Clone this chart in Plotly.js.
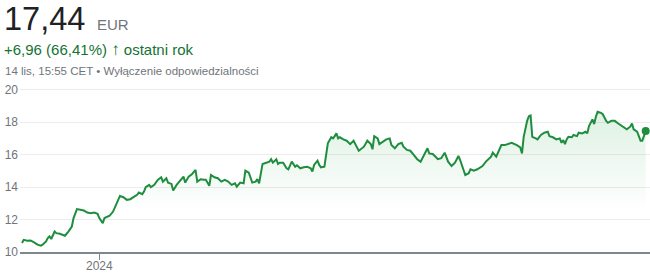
<!DOCTYPE html>
<html>
<head>
<meta charset="utf-8">
<script src="https://cdn.plot.ly/plotly-3.0.1.min.js"></script>
<style>
  html, body { margin: 0; padding: 0; background: #fff; }
  #wrap { position: relative; width: 650px; height: 275px; overflow: hidden; font-family: "Liberation Sans", Arial, sans-serif; }
  #chart { position: absolute; left: 0; top: 0; width: 650px; height: 275px; }
  .hdr { position: absolute; white-space: nowrap; z-index: 5; }
  #price { left: 4px; top: 1px; font-size: 32.5px; color: #202124; line-height: 36px; }
  #cur { left: 97px; top: 16px; font-size: 15px; color: #70757a; line-height: 17px; }
  #chg { left: 4px; top: 40px; font-size: 15px; color: #137333; line-height: 20px; }
  #chg b { font-size: 17px; font-weight: 900; }
  #meta { left: 5px; top: 64px; font-size: 11.5px; color: #70757a; line-height: 14px; }
</style>
</head>
<body>
<div id="wrap">
  <div id="chart"></div>
  <div class="hdr" id="price">17,44</div>
  <div class="hdr" id="cur">EUR</div>
  <div class="hdr" id="chg">+6,96 (66,41%) <b>↑</b> ostatni rok</div>
  <div class="hdr" id="meta">14 lis, 15:55 CET • Wyłączenie odpowiedzialności</div>
</div>
<script>
const dates = [
  "2023-11-17","2023-11-18","2023-11-20","2023-11-22","2023-11-24","2023-11-26","2023-11-28","2023-11-29",
  "2023-12-01","2023-12-02","2023-12-03","2023-12-04","2023-12-06","2023-12-07","2023-12-09","2023-12-11",
  "2023-12-12","2023-12-14","2023-12-16","2023-12-17","2023-12-19","2023-12-21","2023-12-23","2023-12-25",
  "2023-12-27","2023-12-29","2023-12-31","2024-01-01","2024-01-03","2024-01-04","2024-01-07","2024-01-09",
  "2024-01-11","2024-01-13","2024-01-15","2024-01-17","2024-01-19","2024-01-21","2024-01-23","2024-01-24",
  "2024-01-26","2024-01-27","2024-01-28","2024-01-30","2024-01-31","2024-02-02","2024-02-04","2024-02-06",
  "2024-02-07","2024-02-09","2024-02-10","2024-02-12","2024-02-13","2024-02-15","2024-02-17","2024-02-19",
  "2024-02-20","2024-02-22","2024-02-24","2024-02-26","2024-02-27","2024-02-29","2024-03-02","2024-03-03",
  "2024-03-05","2024-03-06","2024-03-08","2024-03-10","2024-03-12","2024-03-14","2024-03-16","2024-03-18",
  "2024-03-20","2024-03-21","2024-03-23","2024-03-25","2024-03-26","2024-03-28","2024-03-30","2024-04-01",
  "2024-04-02","2024-04-03","2024-04-05","2024-04-07","2024-04-09","2024-04-10","2024-04-11","2024-04-13",
  "2024-04-14","2024-04-15","2024-04-17","2024-04-19","2024-04-20","2024-04-22","2024-04-24","2024-04-25",
  "2024-04-27","2024-04-29","2024-05-01","2024-05-03","2024-05-04","2024-05-05","2024-05-07","2024-05-08",
  "2024-05-09","2024-05-11","2024-05-12","2024-05-13","2024-05-15","2024-05-16","2024-05-17","2024-05-18",
  "2024-05-19","2024-05-20","2024-05-22","2024-05-24","2024-05-26","2024-05-28","2024-05-29","2024-05-31",
  "2024-06-03","2024-06-05","2024-06-07","2024-06-08","2024-06-09","2024-06-11","2024-06-12","2024-06-15",
  "2024-06-16","2024-06-18","2024-06-19","2024-06-21","2024-06-23","2024-06-25","2024-06-26","2024-06-28",
  "2024-06-30","2024-07-02","2024-07-04","2024-07-06","2024-07-08","2024-07-10","2024-07-11","2024-07-13",
  "2024-07-15","2024-07-16","2024-07-18","2024-07-20","2024-07-22","2024-07-24","2024-07-26","2024-07-28",
  "2024-07-29","2024-07-31","2024-08-01","2024-08-03","2024-08-04","2024-08-06","2024-08-08","2024-08-11",
  "2024-08-13","2024-08-16","2024-08-17","2024-08-19","2024-08-21","2024-08-22","2024-08-24","2024-08-26",
  "2024-08-28","2024-08-31","2024-09-02","2024-09-03","2024-09-04","2024-09-06","2024-09-07","2024-09-08",
  "2024-09-09","2024-09-11","2024-09-12","2024-09-14","2024-09-16","2024-09-18","2024-09-19","2024-09-21",
  "2024-09-23","2024-09-25","2024-09-26","2024-09-27","2024-09-28","2024-09-29","2024-09-30","2024-10-02",
  "2024-10-03","2024-10-05","2024-10-06","2024-10-08","2024-10-10","2024-10-11","2024-10-12","2024-10-14",
  "2024-10-15","2024-10-16","2024-10-17","2024-10-19","2024-10-20","2024-10-22","2024-10-23","2024-10-25",
  "2024-10-27","2024-10-29","2024-10-31","2024-11-02","2024-11-03","2024-11-05","2024-11-06","2024-11-07",
  "2024-11-09","2024-11-10","2024-11-11","2024-11-12","2024-11-14"
];
const prices = [
  10.55,10.75,10.69,10.71,10.59,10.45,10.39,10.45,
  10.65,10.86,10.96,10.80,11.26,11.16,11.12,11.06,
  11.00,11.26,11.57,12.09,12.64,12.60,12.55,12.43,
  12.39,12.43,12.35,12.09,11.78,12.09,12.23,12.49,
  13.00,13.45,13.37,13.21,13.25,13.37,13.52,13.66,
  13.56,13.72,13.99,14.13,13.99,14.13,14.44,14.60,
  14.33,14.54,14.27,14.19,13.78,14.13,14.39,14.64,
  14.27,14.64,14.80,15.05,14.33,14.48,14.44,14.44,
  14.07,14.74,14.60,14.54,14.33,14.44,14.33,14.13,
  14.23,14.02,14.27,14.23,15.01,14.88,14.27,14.33,
  14.48,14.23,15.42,15.50,15.56,15.71,15.50,15.71,
  15.42,15.50,15.50,15.15,15.09,15.56,15.25,15.34,
  15.15,15.21,15.25,15.15,14.95,15.36,15.62,15.36,
  15.21,15.25,16.07,16.69,17.06,16.99,17.13,17.30,
  16.99,17.06,16.93,16.85,16.64,16.85,16.64,16.23,
  16.48,16.85,16.64,16.32,17.13,16.99,16.64,16.85,
  16.93,16.99,16.58,16.38,16.64,16.72,16.48,16.28,
  16.23,15.97,15.71,15.56,15.97,16.38,16.07,16.03,
  15.83,15.71,15.77,16.11,15.56,15.29,15.50,15.91,
  15.66,15.05,14.74,14.85,15.09,15.01,15.09,15.29,
  15.56,15.87,16.11,15.87,16.32,16.58,16.58,16.64,
  16.72,16.58,16.44,16.07,17.09,18.07,18.36,18.40,
  17.09,16.99,16.93,17.20,17.34,17.40,17.13,17.06,
  16.93,16.99,16.72,16.89,16.64,16.93,17.09,17.06,
  17.20,17.13,17.34,17.30,17.40,17.30,17.75,18.16,
  17.87,18.32,18.63,18.56,18.48,18.07,17.95,18.07,
  18.07,17.91,17.75,17.61,17.55,17.71,17.91,17.55,
  17.40,17.13,16.85,16.85,17.44
];
const yTicks = [10, 12, 14, 16, 18, 20];
const xTickVals = ["2024-01-01"];
const xTickText = ["2024"];

const green = "#1e8e3e";
const lastDate = [dates[dates.length - 1]];
const lastPrice = [prices[prices.length - 1]];

const traces = [
  {
    x: dates, y: prices, type: "scatter", mode: "lines",
    line: { color: green, width: 2, shape: "linear" },
    fill: "tozeroy",
    fillgradient: {
      type: "vertical", start: 12.5, stop: 18.6,
      colorscale: [[0, "rgba(52,168,83,0)"], [1, "rgba(52,168,83,0.16)"]]
    },
    hoverinfo: "skip"
  },
  {
    x: lastDate, y: lastPrice, type: "scatter", mode: "markers",
    marker: { color: green, size: 8 },
    hoverinfo: "skip"
  }
];

const layout = {
  width: 650, height: 275,
  margin: { l: 20, r: 0, t: 83, b: 23 },
  paper_bgcolor: "rgba(0,0,0,0)",
  plot_bgcolor: "rgba(0,0,0,0)",
  showlegend: false,
  font: { family: "Liberation Sans, Arial, sans-serif", color: "#70757a", size: 12 },
  xaxis: {
    type: "date",
    range: ["2023-11-15 20:00", "2024-11-16 12:00"],
    tickvals: xTickVals, ticktext: xTickText,
    ticks: "outside", ticklen: 6, tickcolor: "#80868b", tickwidth: 1,
    ticklabelstandoff: -4,
    showgrid: false, zeroline: false,
    showline: true, linecolor: "#80868b", linewidth: 1.5,
    tickfont: { size: 12, color: "#70757a" }
  },
  yaxis: {
    range: [10, 20.4],
    tickvals: yTicks,
    showgrid: true, gridcolor: "#ececec", gridwidth: 1,
    zeroline: false, showline: false, ticks: "",
    tickfont: { size: 12, color: "#70757a" },
    ticklabelstandoff: 1
  }
};

Plotly.newPlot("chart", traces, layout, { staticPlot: true, displayModeBar: false });
</script>
</body>
</html>
